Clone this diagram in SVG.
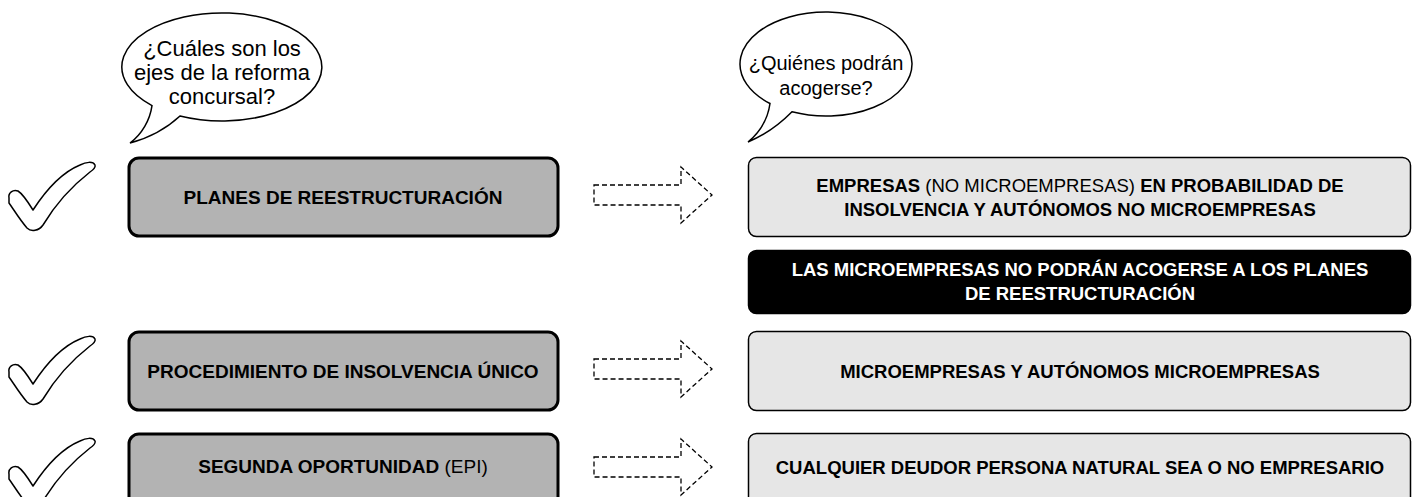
<svg xmlns="http://www.w3.org/2000/svg" width="1413" height="497" viewBox="0 0 1413 497">
<defs>
<style>
.bub{fill:#fff;stroke:#000;stroke-width:1.5}
.bt{font-family:"Liberation Sans",Arial,sans-serif;font-size:22px;fill:#000;text-anchor:middle}
.bt2{font-size:20px}
.chk{fill:#fff;stroke:#000;stroke-width:1.5;stroke-linejoin:round}
.lb{fill:#b3b3b3;stroke:#000;stroke-width:3}
.rb{fill:#e6e6e6;stroke:#000;stroke-width:1.5}
.kb{fill:#000;stroke:#000;stroke-width:1.5}
.t{font-family:"Liberation Sans",Arial,sans-serif;font-size:18.5px;font-weight:bold;fill:#000;text-anchor:middle}
.tl{font-size:19px}
.n{font-weight:normal}
.w{fill:#fff}
.arr{fill:none;stroke:#000;stroke-width:1.3;stroke-dasharray:5 3}
</style>
<path id="check" d="M 9,198 C 8,193 13,189 18,191 C 23,194 28,202 33,210 C 46,190 63,172 80,165 C 86,162 93,161 95,165 C 96,168 93,170 90,172 C 72,186 55,205 43,225 C 39,231 31,232 27,228 C 20,220 14,210 9,203 Z"/>
</defs>
<rect width="1413" height="497" fill="#fff"/>

<g id="bubble1">
<path class="bub" d="M 180,116 A 100 54 0 1 0 152,105.6 C 150,120 142,134 130,143 C 149,138 167,128 180,116 Z"/>
<text class="bt" x="222" y="56">¿Cuáles son los</text>
<text class="bt" x="222" y="80">ejes de la reforma</text>
<text class="bt" x="222" y="104">concursal?</text>
</g>

<g id="bubble2">
<path class="bub" d="M 792,111.8 A 86 52 0 1 0 770,103.5 C 768,118 760,132 748,142 C 765,135 780,124 792,111.8 Z"/>
<text class="bt bt2" x="826" y="70">¿Quiénes podrán</text>
<text class="bt bt2" x="826" y="95">acogerse?</text>
</g>

<g id="check1"><use href="#check" class="chk"/></g>
<g id="check2"><use href="#check" class="chk" transform="translate(0,174)"/></g>
<g id="check3"><use href="#check" class="chk" transform="translate(0,276)"/></g>

<g id="eje1">
<rect class="lb" x="129" y="158" width="429" height="78" rx="10"/>
<text class="t tl" x="343" y="203.5">PLANES DE REESTRUCTURACIÓN</text>
</g>
<g id="eje2">
<rect class="lb" x="129" y="332" width="429" height="78" rx="10"/>
<text class="t tl" x="343" y="377.5">PROCEDIMIENTO DE INSOLVENCIA ÚNICO</text>
</g>
<g id="eje3">
<rect class="lb" x="129" y="434" width="429" height="78" rx="10"/>
<text class="t tl" x="343" y="472.5">SEGUNDA OPORTUNIDAD <tspan class="n">(EPI)</tspan></text>
</g>

<g id="connectors">
<path class="arr" d="M 594,185 H 681 V 167 L 712,195 L 681,223 V 205 H 594 Z"/>
<path class="arr" d="M 594,359 H 681 V 341 L 712,369 L 681,397 V 379 H 594 Z"/>
<path class="arr" d="M 594,457 H 681 V 439 L 712,467 L 681,495 V 477 H 594 Z"/>
</g>

<g id="quien1">
<rect class="rb" x="748.5" y="157.5" width="662" height="79" rx="8"/>
<text class="t" x="1080" y="191.5">EMPRESAS <tspan class="n">(NO MICROEMPRESAS)</tspan> EN PROBABILIDAD DE</text>
<text class="t" x="1080" y="215.5">INSOLVENCIA Y AUTÓNOMOS NO MICROEMPRESAS</text>
</g>
<g id="nota">
<rect class="kb" x="748.5" y="250.5" width="662" height="63" rx="8"/>
<text class="t w" x="1080" y="275.5">LAS MICROEMPRESAS NO PODRÁN ACOGERSE A LOS PLANES</text>
<text class="t w" x="1080" y="299.5">DE REESTRUCTURACIÓN</text>
</g>
<g id="quien2">
<rect class="rb" x="748.5" y="331.5" width="662" height="79" rx="8"/>
<text class="t" x="1080" y="377.5">MICROEMPRESAS Y AUTÓNOMOS MICROEMPRESAS</text>
</g>
<g id="quien3">
<rect class="rb" x="748.5" y="433.5" width="662" height="79" rx="8"/>
<text class="t" x="1080" y="473.5">CUALQUIER DEUDOR PERSONA NATURAL SEA O NO EMPRESARIO</text>
</g>
</svg>
